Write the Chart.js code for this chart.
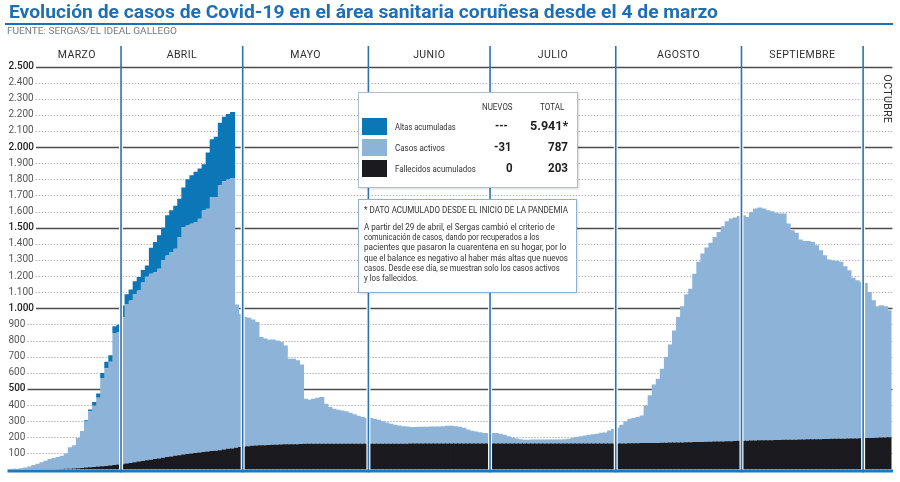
<!DOCTYPE html>
<html>
<head>
<meta charset="utf-8">
<script src="https://cdn.jsdelivr.net/npm/chart.js@4"></script>
<style>
  body { margin: 0; background: #fff; }
  #wrap { position: relative; width: 900px; height: 482px; overflow: hidden; font-family: Roboto, 'Noto Sans', sans-serif; background: #fff; }
  canvas { position: absolute; left: 0; top: 0; }
  .t { position: absolute; white-space: nowrap; transform-origin: 0 50%; }
  .box { position: absolute; background: #fff; box-sizing: border-box; }
</style>
</head>
<body>
<div id="wrap">
  <canvas id="c" width="900" height="482"></canvas>
</div>
<script>
// ---- categories (one bar per day, 4 de marzo .. 7 de octubre) ----
const monthNames    = ['MARZO', 'ABRIL', 'MAYO', 'JUNIO', 'JULIO', 'AGOSTO', 'SEPTIEMBRE', 'OCTUBRE'];
const monthFirstDay = [4, 1, 1, 1, 1, 1, 1, 1];
const monthLastDay  = [31, 30, 31, 30, 31, 31, 30, 7];

// ---- series ----
const fallecidos = [
  0,0,0,0,0,0,0,0,0,0,0,0,2,3,4,5,6,8,10,12,14,16,18,20,22,25,28,31,
  33,37,41,45,49,53,57,61,65,69,73,77,81,85,89,93,96,99,102,105,108,111,114,117,120,124,128,131,135,140,
  143,145,147,149,150,151,152,153,154,155,156,156,157,157,158,159,159,159,160,160,160,160,160,160,160,160,160,160,160,160,160,
  160,160,160,160,160,160,160,160,160,160,161,161,161,161,161,161,161,161,161,161,161,161,161,161,161,161,161,161,161,161,
  161,161,161,161,161,161,161,161,161,161,161,161,161,161,161,162,162,162,162,162,162,162,162,162,162,162,162,162,162,162,162,
  162,162,162,163,163,163,164,164,164,165,165,166,166,167,167,168,168,169,169,170,170,171,172,172,173,174,174,175,176,177,178,
  179,179,180,180,181,181,182,182,183,183,184,184,185,185,186,186,187,187,188,188,189,189,190,190,191,191,192,192,193,194,
  195,196,196,197,198,199,200
];
const activos = [
  3,4,5,8,12,18,28,35,45,55,65,72,76,82,96,133,144,187,222,285,348,380,427,548,606,643,815,822,
  911,990,1007,1044,1061,1107,1138,1153,1159,1176,1227,1251,1268,1284,1353,1411,1418,1426,1433,1451,1500,1507,1577,1574,1644,1664,1671,1678,888,825,
  803,797,783,766,672,661,653,654,647,636,614,531,530,520,494,280,274,280,285,289,248,227,217,211,206,202,192,182,173,165,159,
  159,155,148,140,132,124,117,113,109,107,103,103,104,104,104,105,105,106,108,110,110,107,104,98,87,79,74,70,66,64,
  65,65,61,54,46,38,32,27,23,23,25,25,25,25,25,24,24,24,26,28,35,39,45,49,53,57,60,66,68,80,90,
  97,115,138,152,156,162,171,234,296,363,398,459,532,609,696,778,844,918,953,1045,1118,1169,1205,1234,1270,1300,1335,1365,1381,1386,1395,
  1399,1388,1418,1439,1444,1438,1427,1420,1409,1405,1404,1342,1299,1283,1241,1232,1231,1225,1203,1172,1140,1113,1108,1104,1097,1070,1044,998,981,970,
  962,905,854,815,821,813,788
];
const altas = [
  null,null,null,null,null,null,null,null,null,null,null,null,null,null,null,null,null,null,3,8,10,22,27,30,40,40,45,45,
  73,60,68,79,84,78,71,161,188,208,200,250,260,267,237,246,287,301,312,312,286,349,357,373,387,401,406,408
];

// ---- axis ticks ----
const yMin = 0, yMax = 2500, yStep = 100, yMajorEvery = 500;

// ---- texts ----
const titleText = 'Evolución de casos de Covid-19 en el área sanitaria coruñesa desde el 4 de marzo';
const sourceText = 'FUENTE: SERGAS/EL IDEAL GALLEGO';
const legendHeaders = ['NUEVOS', 'TOTAL'];
const legendNames = ['Altas acumuladas', 'Casos activos', 'Fallecidos acumulados'];
const legendNuevos = ['---', '-31', '0'];
const legendTotal = ['5.941*', '787', '203'];
const noteHeader = '* DATO ACUMULADO DESDE EL INICIO DE LA PANDEMIA';
const noteLines = [
  'A partir del 29 de abril, el Sergas cambió el criterio de',
  'comunicación de casos, dando por recuperados a los',
  'pacientes que pasaron la cuarentena en su hogar, por lo',
  'que el balance es negativo al haber más altas que nuevos',
  'casos. Desde ese día, se muestran solo los casos activos',
  'y los fallecidos.'
];

const colors = { altas: '#0b77b7', activos: '#8db4d8', fallecidos: '#1b1a1f', divider: '#2b73b4', base: '#1c77bf' };

const categories = [];
monthNames.forEach((m, k) => {
  for (let d = monthFirstDay[k]; d <= monthLastDay[k]; d++) categories.push(d + ' ' + m.toLowerCase());
});

function fmt(v) {
  if (v >= 1000) return Math.floor(v / 1000) + '.' + String(v % 1000).padStart(3, '0');
  return String(v);
}
function tickFont(v) { return (v % yMajorEvery === 0) ? '500 10px Roboto' : '400 10px Roboto'; }

const gridPlugin = {
  id: 'customGrid',
  beforeDatasetsDraw(chart) {
    const { ctx, chartArea: a, scales: { y } } = chart;
    ctx.save();
    for (let v = yStep; v <= yMax; v += yStep) {
      const py = Math.round(y.getPixelForValue(v)) + 0.5;
      ctx.font = tickFont(v);
      const w = ctx.measureText(fmt(v)).width;
      const x0 = a.left + 1 + w + 2;
      ctx.beginPath();
      if (v % yMajorEvery === 0) {
        ctx.setLineDash([]);
        ctx.strokeStyle = '#4d4d4d';
        ctx.lineWidth = 1.6;
      } else {
        ctx.setLineDash([1.5, 1.5]);
        ctx.strokeStyle = '#b5b5b5';
        ctx.lineWidth = 1;
      }
      ctx.moveTo(x0, py);
      ctx.lineTo(a.right + 1, py);
      ctx.stroke();
    }
    ctx.restore();
  }
};

const decorPlugin = {
  id: 'decor',
  afterDatasetsDraw(chart) {
    const { ctx, chartArea: a, scales: { x } } = chart;
    const bounds = [];
    let idx = 0;
    monthNames.forEach((m, k) => {
      idx += monthLastDay[k] - monthFirstDay[k] + 1;
      if (k < monthNames.length - 1) bounds.push((x.getPixelForValue(idx - 1) + x.getPixelForValue(idx)) / 2);
    });
    ctx.save();
    ctx.setLineDash([]);
    // baseline
    ctx.fillStyle = colors.base;
    ctx.fillRect(a.left, a.bottom, a.right - a.left + 1.5, 3);
    // month dividers
    bounds.forEach(bx => {
      ctx.strokeStyle = '#ffffff';
      ctx.lineWidth = 4;
      ctx.beginPath(); ctx.moveTo(bx, a.top + 2); ctx.lineTo(bx, a.bottom); ctx.stroke();
      ctx.strokeStyle = colors.divider;
      ctx.lineWidth = 1.6;
      ctx.beginPath(); ctx.moveTo(bx, 46); ctx.lineTo(bx, a.bottom + 3); ctx.stroke();
    });
    // month labels
    ctx.fillStyle = '#2e2e2e';
    ctx.font = '400 10.5px Roboto';
    ctx.textAlign = 'center';
    ctx.textBaseline = 'middle';
    try { ctx.letterSpacing = '0.4px'; } catch (e) {}
    for (let k = 0; k < monthNames.length - 1; k++) {
      const left = k === 0 ? a.left + 25 : bounds[k - 1];
      ctx.fillText(monthNames[k], (left + bounds[k]) / 2, 55);
    }
    // last month, rotated
    ctx.save();
    ctx.translate(887, 99);
    ctx.rotate(Math.PI / 2);
    ctx.fillText(monthNames[monthNames.length - 1], 0, 0);
    ctx.restore();
    ctx.restore();
  }
};

new Chart(document.getElementById('c'), {
  type: 'bar',
  data: {
    labels: categories,
    datasets: [
      { label: 'Fallecidos acumulados', data: fallecidos, backgroundColor: colors.fallecidos },
      { label: 'Casos activos', data: activos, backgroundColor: colors.activos },
      { label: 'Altas acumuladas', data: altas, backgroundColor: colors.altas }
    ]
  },
  options: {
    responsive: false,
    animation: false,
    events: [],
    layout: { padding: { left: 5.5, right: 8.5, top: 66.5, bottom: 12.5 } },
    datasets: { bar: { barPercentage: 1.27, categoryPercentage: 1, borderWidth: 0, inflateAmount: 0 } },
    plugins: { legend: { display: false }, tooltip: { enabled: false }, title: { display: false } },
    scales: {
      x: { stacked: true, display: false, grid: { display: false } },
      y: {
        stacked: true, min: yMin, max: yMax,
        border: { display: false },
        grid: { display: false, drawTicks: false },
        ticks: {
          stepSize: yStep, autoSkip: false, maxTicksLimit: 40,
          mirror: true, padding: 1,
          color: (c) => (c.tick && c.tick.value % yMajorEvery === 0) ? '#222' : '#555',
          font: (c) => ({ family: 'Roboto', size: 10, weight: (c.tick && c.tick.value % yMajorEvery === 0) ? '500' : '400' }),
          callback: (v) => v === 0 ? null : fmt(v)
        }
      }
    }
  },
  plugins: [gridPlugin, decorPlugin]
});

// ---- HTML overlays: title, legend box, note box ----
const wrap = document.getElementById('wrap');
function addBox(x, y, w, h, border, bg, shadow) {
  const d = document.createElement('div');
  d.className = 'box';
  Object.assign(d.style, { left: x + 'px', top: y + 'px', width: w + 'px', height: h + 'px', background: bg });
  if (border) d.style.border = border;
  if (shadow) d.style.boxShadow = shadow;
  wrap.appendChild(d);
}
function addText(txt, x, cy, w, font, color) {
  const d = document.createElement('div');
  d.className = 't';
  d.textContent = txt;
  d.style.font = font;
  d.style.lineHeight = '16px';
  d.style.height = '16px';
  d.style.color = color;
  d.style.left = x + 'px';
  d.style.top = (cy - 8) + 'px';
  wrap.appendChild(d);
  const nat = d.getBoundingClientRect().width;
  if (w && nat > 0) d.style.transform = 'scaleX(' + (w / nat) + ')';
}

// title + underline + source
addText(titleText, 9, 11.7, 709, '700 18.5px Roboto', '#1f6fb4');
addBox(5, 23, 888, 1.5, null, '#1f6fb4');
addText(sourceText, 7, 31.3, 170, '400 8.5px Roboto', '#6f7b86');

// legend box
addBox(358, 92, 220, 96, '1px solid #aebdcc', '#fff', '1px 1px 2px rgba(0,0,0,0.15)');
addText(legendHeaders[0], 481.7, 107, 30.6, '400 8.5px Roboto', '#333');
addText(legendHeaders[1], 540, 107, 24.3, '400 8.5px Roboto', '#333');
const swTop = [118.3, 139.3, 160.3];
const swCol = [colors.altas, colors.activos, colors.fallecidos];
const rowCy = [126.8, 147.5, 168.8];
const nameW = [60.7, 50, 80.7];
const nuevosX = [495, 494.3, 505.7], nuevosW = [12.7, 17.4, 6.6];
const totalX = [530, 547.7, 547.7], totalW = [38.3, 20, 20];
for (let r = 0; r < 3; r++) {
  addBox(362.3, swTop[r], 25, 16.8, null, swCol[r]);
  addText(legendNames[r], 395, rowCy[r], nameW[r], '400 9.5px Roboto', '#333');
  addText(legendNuevos[r], nuevosX[r], rowCy[r] - 0.8, nuevosW[r], '700 12.5px Roboto', '#1e1e1e');
  addText(legendTotal[r], totalX[r], rowCy[r] - 0.8, totalW[r], '700 12.5px Roboto', '#1e1e1e');
}

// note box
addBox(357.5, 199, 219.5, 93.5, '1px solid #8fb0cf', '#fff', '1px 1px 2px rgba(0,0,0,0.12)');
addText(noteHeader, 364.3, 210, 204, '400 8.5px Roboto', '#333');
const noteW = [190.7, 175.3, 202.4, 204, 195.7, 54];
noteLines.forEach((l, i) => addText(l, 364.3, 226.7 + i * 10.3, noteW[i], '400 8.5px Roboto', '#333'));
</script>
</body>
</html>
